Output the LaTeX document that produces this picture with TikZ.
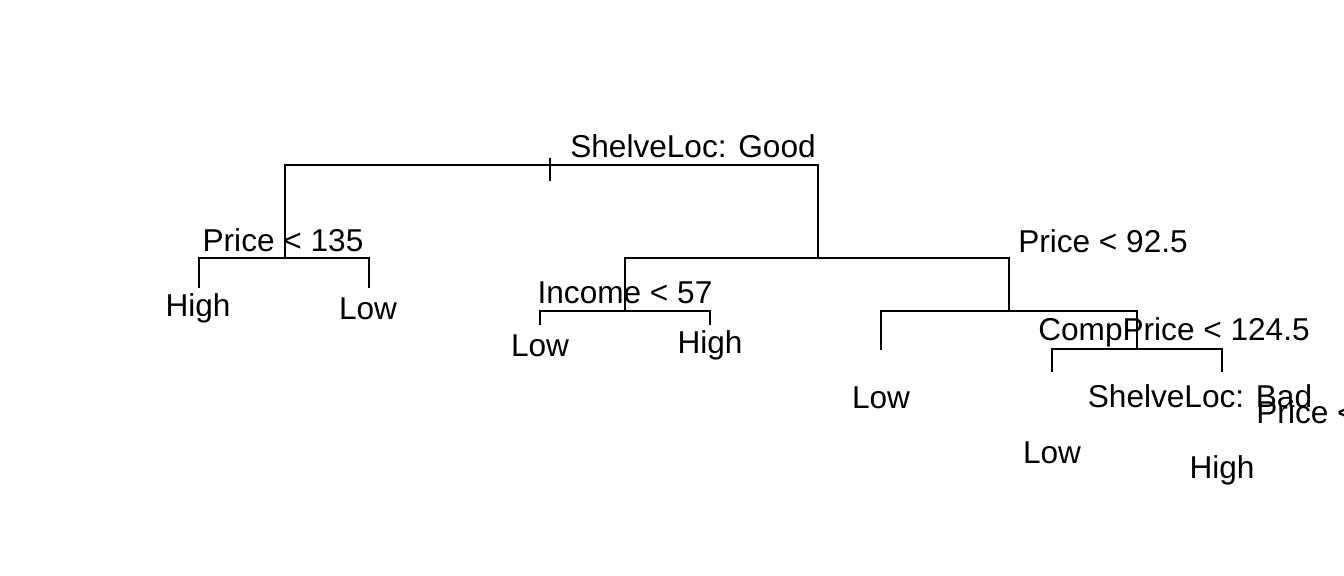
\documentclass[tikz,border=0pt]{standalone}
\usepackage{fontspec}
\setmainfont{Liberation Sans}
\usetikzlibrary{positioning,calc}

\begin{document}
\begin{tikzpicture}[
  x=0.5pt, y=-0.5pt,
  every node/.style={font=\fontsize{15.8}{19}\selectfont},
  splitlbl/.style={anchor=base,inner sep=0pt},
  leaflbl/.style={anchor=base,inner sep=0pt},
  branch/.style={draw=black,line width=1pt},
]
  \useasboundingbox (0,0) rectangle (1344,576);
  % split points
  \coordinate (root) at (550,165);
  \coordinate (n2) at (285,258);
  \coordinate (n3) at (818,258);
  \coordinate (n6) at (625,311);
  \coordinate (n7) at (1009,311);
  \coordinate (n15) at (1137,349);
  % leaf ends
  \coordinate (l1) at (199,288);
  \coordinate (l2) at (369,288);
  \coordinate (l3) at (540,325);
  \coordinate (l4) at (710,325);
  \coordinate (l5) at (881,350);
  \coordinate (l6) at (1052,372);
  \coordinate (l7) at (1222,372);

  % branches
  \draw[branch] (root) ++(0,-7) -- ++(0,23);
  \draw[branch] (n2) |- (root) -| (n3);
  \draw[branch] (l1) |- (n2) -| (l2);
  \draw[branch] (n6) |- (n3) -| (n7);
  \draw[branch] (l3) |- (n6) -| (l4);
  \draw[branch] (l5) |- (n7) -| (n15);
  \draw[branch] (l6) |- (n15) -| (l7);

  % split labels
  \node[splitlbl] (s1) at (693,158) {ShelveLoc: Good};
  \node[splitlbl] (s2) at (283,252) {Price < 135};
  \node[splitlbl] (s3) at (1103,253) {Price < 92.5};
  \node[splitlbl] (s6) at (625,304) {Income < 57};
  \node[splitlbl] (s7) at (1174,341) {CompPrice < 124.5};
  \node[splitlbl] (s15) at (1200,408) {ShelveLoc: Bad};
  \node[splitlbl,anchor=base west] (s31) at (1256,424) {Price <};

  % leaf labels
  \node[leaflbl] (t1) at (198,317) {High};
  \node[leaflbl] (t2) at (368,320) {Low};
  \node[leaflbl] (t3) at (540,357) {Low};
  \node[leaflbl] (t4) at (710,354) {High};
  \node[leaflbl] (t5) at (881,409) {Low};
  \node[leaflbl] (t6) at (1052,464) {Low};
  \node[leaflbl] (t7) at (1222,479) {High};
\end{tikzpicture}
\end{document}
